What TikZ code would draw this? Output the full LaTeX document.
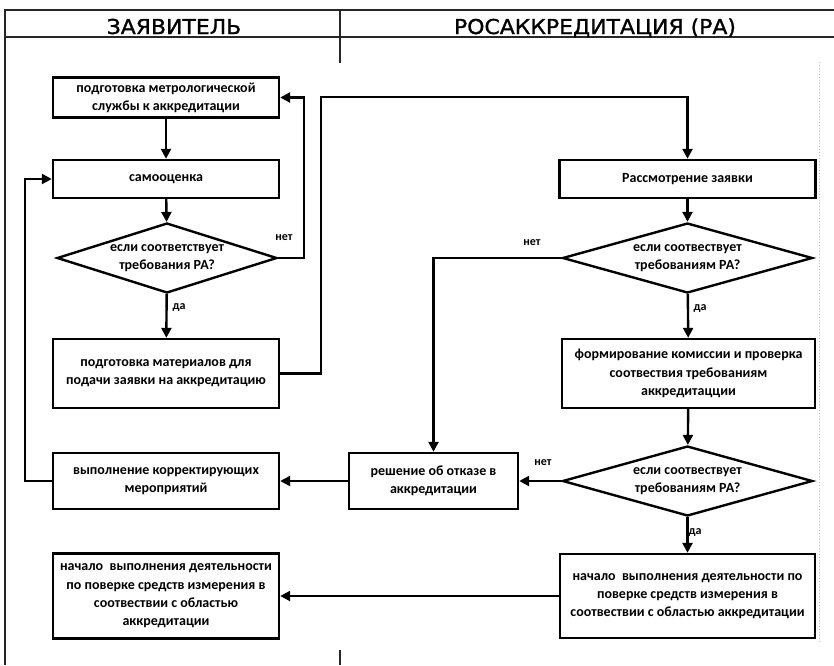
\documentclass[tikz,border=0pt]{standalone}
\usepackage{fontspec}
\setmainfont{Carlito}
\newfontfamily\hdrfont[FakeStretch=1.07,FakeBold=1.2]{DejaVu Sans}
\usetikzlibrary{shapes.geometric,arrows.meta,calc}
\begin{document}
\begin{tikzpicture}[x=1pt,y=-1pt,
  frame/.style={line width=1.2pt,draw=black!85},
  box/.style={draw,line width=2.4pt,align=center,inner sep=0pt,
    font=\bfseries\fontsize{14}{18.3}\selectfont},
  dia/.style={draw,line width=2.4pt,diamond,inner sep=0pt,minimum width=220pt,minimum height=70pt},
  dtext/.style={align=center,inner sep=0pt,font=\bfseries\fontsize{14}{18.3}\selectfont},
  lbl/.style={inner sep=0pt,font=\bfseries\fontsize{12}{14}\selectfont},
  hdr/.style={inner sep=0pt,anchor=base,font=\hdrfont\fontsize{20.5}{24}\selectfont},
  arr/.style={line width=2.4pt,-{Triangle[length=10pt,width=10pt]}}]
\useasboundingbox (0,0) rectangle (834,665);
% frame
\draw[frame] (834,10) -- (5,10) -- (5,665);
\draw[frame] (5,37) -- (834,37);
\draw[frame] (340,10) -- (340,63);
\draw[frame] (340,650) -- (340,665);
\draw[black!25,line width=1pt,dotted] (819,62) -- (819,642);
\node[hdr] (h1) at (174,34) {ЗАЯВИТЕЛЬ};
\node[hdr] (h2) at (595,34) {РОСАККРЕДИТАЦИЯ (РА)};
% left column
\node[box,minimum width=226pt,minimum height=40pt] (b1) at (166,97.5) {подготовка метрологической\\службы к аккредитации};
\node[box,minimum width=226pt,minimum height=38pt] (b2) at (166,179) {самооценка};
\node[dia] (d1) at (167,258) {};
\node[dtext] (d1t) at (167,258) {если соответствует\\требования РА?};
\node[box,minimum width=226pt,minimum height=69pt] (b3) at (166,373.5) {подготовка материалов для\\подачи заявки на аккредитацию};
\node[box,minimum width=226pt,minimum height=56pt] (b4) at (166,481) {выполнение корректирующих\\мероприятий};
\node[box,minimum width=226pt,minimum height=85pt] (f1) at (166,596) {начало\ \ выполнения деятельности\\по поверке средств измерения в\\соотвествии с областью\\аккредитации};
% right column
\node[box,minimum width=256pt,minimum height=38pt] (rz) at (687.5,179) {Рассмотрение заявки};
\node[dia,minimum width=250pt] (d2) at (687.5,258) {};
\node[dtext] (d2t) at (687.5,258) {если соотвествует\\требованиям РА?};
\node[box,minimum width=253pt,minimum height=69pt] (fm) at (688.5,373.5) {формирование комиссии и проверка\\соотвествия требованиям\\аккредитацции};
\node[dia,minimum width=250pt] (d3) at (687.5,481) {};
\node[dtext] (d3t) at (687.5,481) {если соотвествует\\требованиям РА?};
\node[box,minimum width=169pt,minimum height=56pt] (rj) at (433.5,481) {решение об отказе в\\аккредитации};
\node[box,minimum width=255pt,minimum height=84pt] (f2) at (687.5,596) {начало\ \ выполнения деятельности по\\поверке средств измерения в\\соотвествии с областью аккредитации};
% connectors
\draw[arr] (b1) -- (b2);
\draw[arr] (b2) -- (d1);
\draw[arr] (d1.east) -| ($(b1.east)+(24,0)$) -- (b1.east);
\draw[arr] (d1) -- (b3);
\draw[arr] (b3.east) -- ++(41,0) |- ($(rz.north)+(0,-62)$) -- (rz.north);
\draw[arr] (rz) -- (d2);
\draw[arr] (d2.west) -| (rj.north);
\draw[arr] (d2) -- (fm);
\draw[arr] (fm) -- (d3);
\draw[arr] (d3.west) -- (rj.east);
\draw[arr] (rj.west) -- (b4.east);
\draw[arr] (b4.west) -- ++(-27,0) |- (b2.west);
\draw[arr] (d3) -- (f2);
\draw[arr] (f2.west) -- (f1.east);
% labels
\node[lbl] (l1) at (284,238) {нет};
\node[lbl] (l2) at (179,307) {да};
\node[lbl] (l3) at (532,243) {нет};
\node[lbl] (l4) at (700,308) {да};
\node[lbl] (l5) at (543,463) {нет};
\node[lbl] (l6) at (695,532) {да};
\end{tikzpicture}
\end{document}
